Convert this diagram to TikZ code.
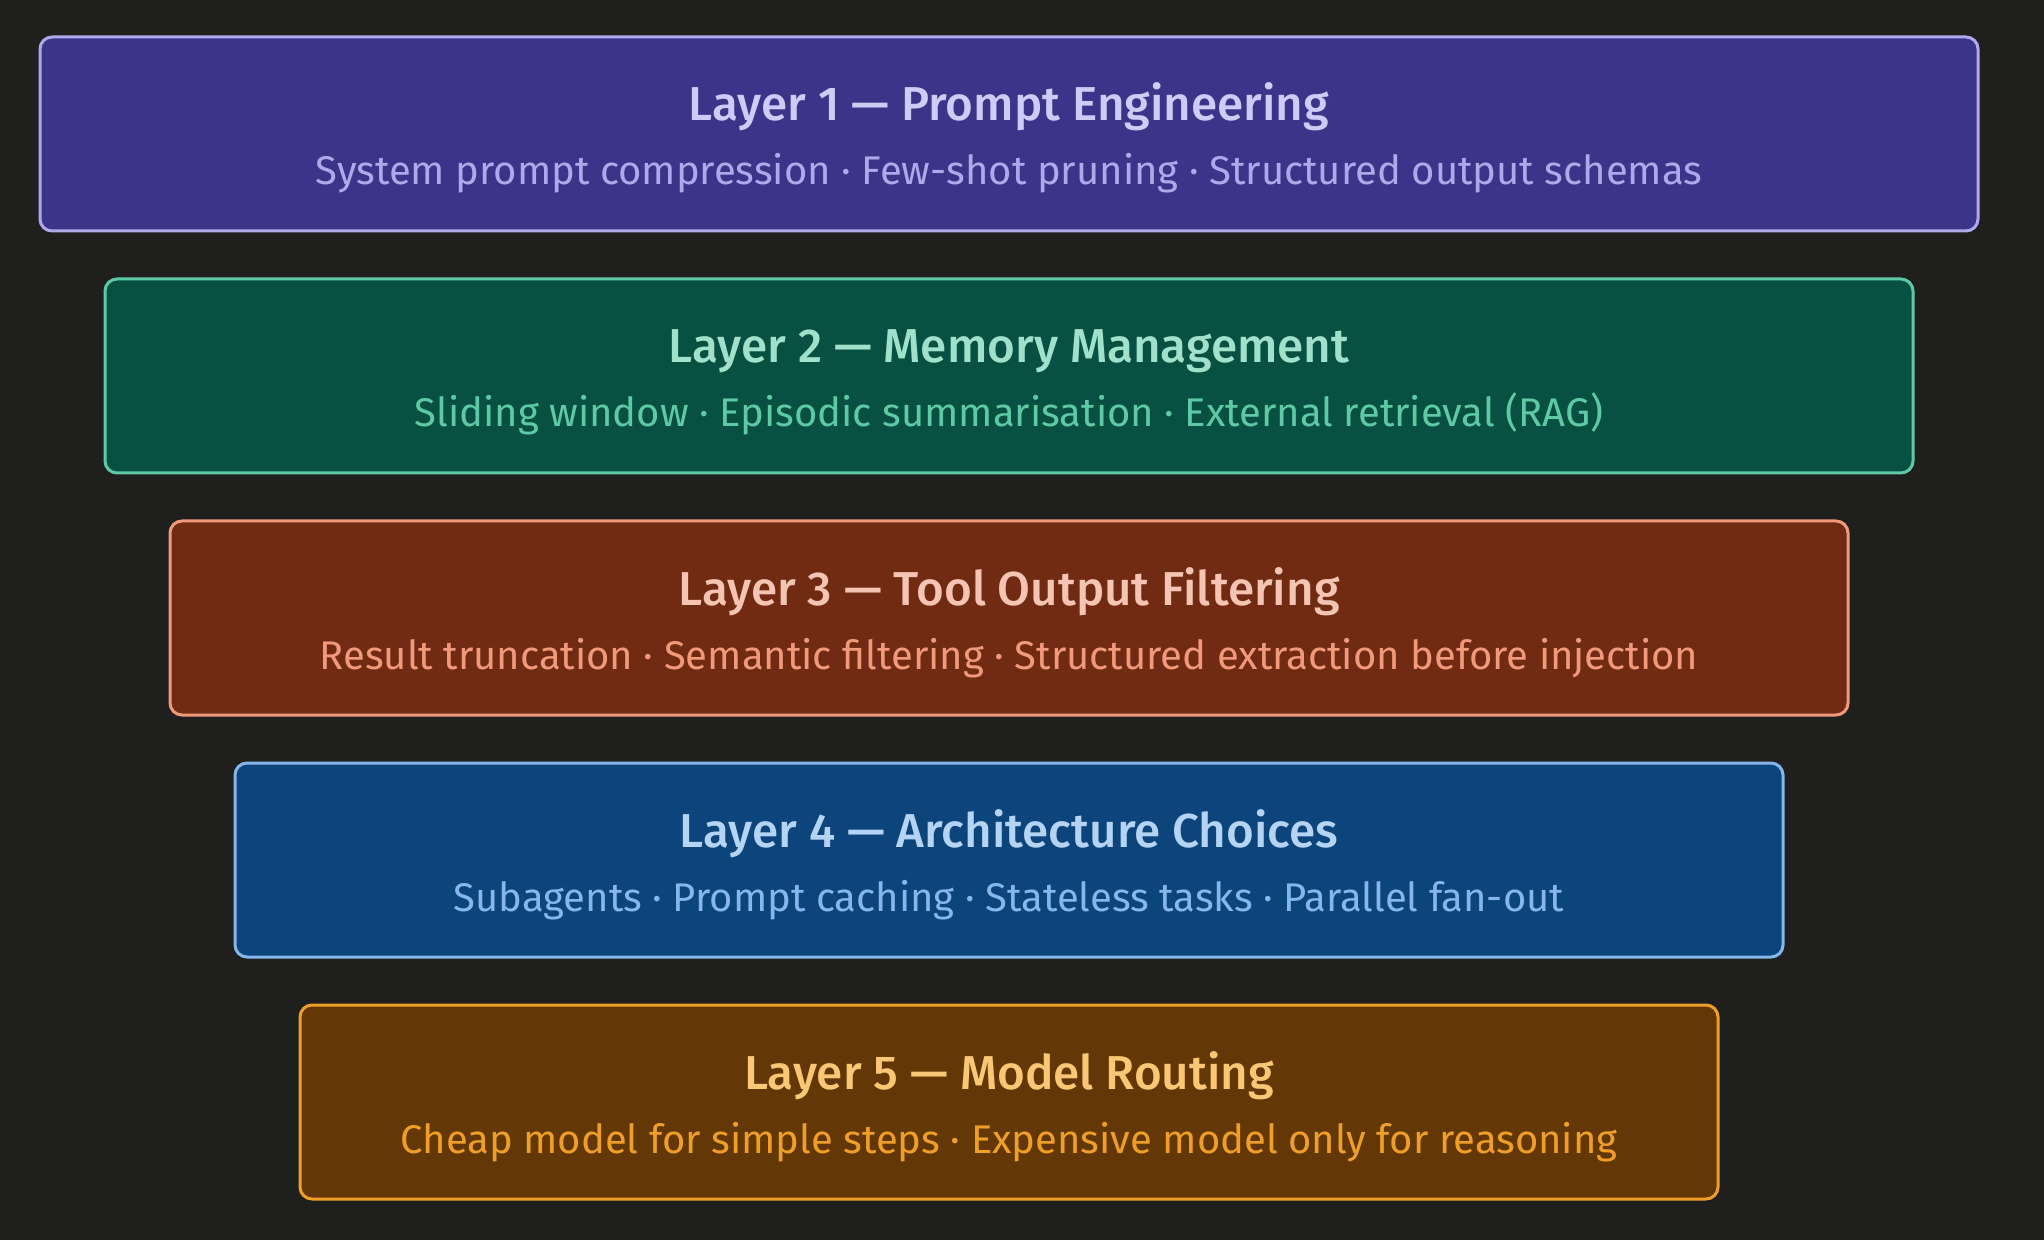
\documentclass[tikz,border=0pt]{standalone}
\usepackage{fontspec}
\setmainfont{Fira Sans}
\newfontfamily\headfont{Fira Sans}[UprightFont=* Medium]

\definecolor{bg}{HTML}{1F1F1E}
\definecolor{pufill}{HTML}{3C3489}
\definecolor{puline}{HTML}{AFA9EC}
\definecolor{puhead}{HTML}{CECBF6}
\definecolor{tefill}{HTML}{085041}
\definecolor{teline}{HTML}{5DCAA5}
\definecolor{tehead}{HTML}{9FE1CB}
\definecolor{cofill}{HTML}{712B13}
\definecolor{coline}{HTML}{F0997B}
\definecolor{cohead}{HTML}{F5C4B3}
\definecolor{blfill}{HTML}{0C447C}
\definecolor{blline}{HTML}{85B7EB}
\definecolor{blhead}{HTML}{B5D4F4}
\definecolor{amfill}{HTML}{633806}
\definecolor{amline}{HTML}{EF9F27}
\definecolor{amhead}{HTML}{FAC775}

\tikzset{
  layer/.style 2 args={draw=#1, fill=#2, line width=1.5pt, rounded corners=6pt,
    minimum height=97pt, inner sep=0pt},
  head/.style={text=#1, font=\headfont\fontsize{23.8}{28}\selectfont, anchor=base, inner sep=0pt},
  sub/.style={text=#1, font=\fontsize{20}{24}\selectfont, anchor=base, inner sep=0pt},
}

\begin{document}
\begin{tikzpicture}[x=0.5pt,y=-0.5pt]
\fill[bg] (0,0) rectangle (2044,1240);
\useasboundingbox (0,0) rectangle (2044,1240);

% the five layers, widest at the top
\node (l1) [layer={puline}{pufill}, minimum width=969pt] at (1009,134) {};
\node (l2) [layer={teline}{tefill}, minimum width=904pt] at (1009,376) {};
\node (l3) [layer={coline}{cofill}, minimum width=839pt] at (1009,618) {};
\node (l4) [layer={blline}{blfill}, minimum width=774pt] at (1009,860) {};
\node (l5) [layer={amline}{amfill}, minimum width=709pt] at (1009,1102) {};

\node (h1) [head=puhead] at ([yshift=6.5pt]l1.center) {Layer 1 — Prompt Engineering};
\node (s1) [sub=puline] at ([yshift=-25.5pt]l1.center)
  {System prompt compression · Few-shot pruning · Structured output schemas};
\node (h2) [head=tehead] at ([yshift=6.5pt]l2.center) {Layer 2 — Memory Management};
\node (s2) [sub=teline] at ([yshift=-25.5pt]l2.center)
  {Sliding window · Episodic summarisation · External retrieval (RAG)};
\node (h3) [head=cohead] at ([yshift=6.5pt]l3.center) {Layer 3 — Tool Output Filtering};
\node (s3) [sub=coline] at ([yshift=-25.5pt]l3.center)
  {Result truncation · Semantic filtering · Structured extraction before injection};
\node (h4) [head=blhead] at ([yshift=6.5pt]l4.center) {Layer 4 — Architecture Choices};
\node (s4) [sub=blline] at ([yshift=-25.5pt]l4.center)
  {Subagents · Prompt caching · Stateless tasks · Parallel fan-out};
\node (h5) [head=amhead] at ([yshift=6.5pt]l5.center) {Layer 5 — Model Routing};
\node (s5) [sub=amline] at ([yshift=-25.5pt]l5.center)
  {Cheap model for simple steps · Expensive model only for reasoning};
\end{tikzpicture}
\end{document}
